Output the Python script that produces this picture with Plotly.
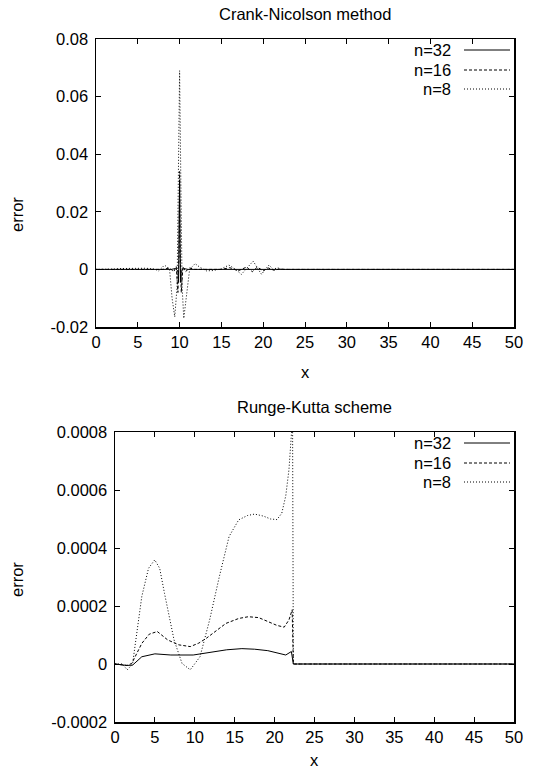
import plotly.graph_objects as go

# ---------------- data: Crank-Nicolson method ----------------
cn_x8 = [0, 1, 2, 3, 4, 5, 6, 7, 7.5, 8.2, 8.8, 9.1, 9.42, 9.7, 9.85, 10.0, 10.15, 10.3,
         10.5, 10.8, 11.2, 11.85, 12.4, 13.2, 14.0, 15.0, 15.9, 16.6, 17.4, 18.1, 18.8,
         19.3, 19.8, 20.3, 20.7, 21.2, 21.7, 22.2, 23.0, 50.0]
cn_y8 = [0, 0, 0.0001, 0.0003, 0.0004, 0.0003, 0.0004, 0.0001, -0.0005, 0.0015, 0.0, -0.010,
         -0.0165, -0.006, 0.03, 0.069, 0.03, -0.006, -0.017, -0.010, 0.0, 0.002, 0.0008,
         -0.0005, -0.0004, 0.0002, 0.0015, 0.0002, -0.0017, 0.0006, 0.0029, 0.0005, -0.0017,
         0.0002, 0.0015, 0.0, 0.0006, 0.0, 0.0, 0.0]

cn_x16 = [0, 8.0, 8.8, 9.3, 9.6, 9.8, 9.92, 10.0, 10.08, 10.2, 10.4, 10.7, 11.2, 11.8,
          15.0, 16.0, 17.0, 18.0, 18.7, 19.3, 20.0, 20.6, 21.3, 22.0, 22.5, 50.0]
cn_y16 = [0, 0, 0.0005, -0.0008, 0.001, -0.008, 0.005, 0.034, 0.005, -0.008, 0.001, -0.0008,
          0.0005, 0.0, 0.0, 0.0006, -0.0005, 0.0008, -0.0008, 0.0008, -0.0005, 0.0005,
          -0.0003, 0.0002, 0.0, 0.0]

cn_x32 = [0, 9.0, 9.5, 9.8, 9.88, 9.96, 10.0, 10.04, 10.12, 10.2, 10.5, 11.0, 50.0]
cn_y32 = [0, 0, 0.0003, -0.0006, -0.0045, 0.01, 0.031, 0.01, -0.0045, -0.0006, 0.0003, 0.0, 0.0]

# ---------------- data: Runge-Kutta scheme ----------------
rk_x8 = [0, 0.9, 1.54, 2.2, 3.36, 4.2, 4.98, 5.6, 6.2, 7.4, 8.4, 9.43, 10.65, 11.86, 13.08,
         14.3, 15.5, 16.6, 17.5, 18.6, 19.5, 20.3, 20.9, 21.4, 21.8, 22.1, 22.25, 22.35, 50.0]
rk_y8 = [0, 0.0, -0.00002, 0.0, 0.000233, 0.00033, 0.000359, 0.00033, 0.000244, 0.000083,
         0.000002, -0.00002, 0.000025, 0.000152, 0.000302, 0.00044, 0.000497, 0.000512,
         0.000517, 0.00051, 0.0005, 0.000498, 0.00052, 0.00058, 0.00067, 0.00079, 0.00085,
         0.0, 0.0]

rk_x16 = [0, 1.5, 2.1, 3.36, 4.3, 5.3, 6.6, 8.0, 9.43, 10.5, 11.46, 13.9, 15.5, 16.7, 18.0,
          19.15, 20.3, 21.2, 21.8, 22.2, 22.35, 50.0]
rk_y16 = [0, -0.000005, 0.000002, 0.000071, 0.000103, 0.000112, 0.000083, 0.000066,
          0.00006, 0.000072, 0.000089, 0.00014, 0.000157, 0.000163, 0.00016, 0.000146,
          0.000133, 0.000127, 0.000152, 0.000187, 0.0, 0.0]

rk_x32 = [0, 1.5, 2.2, 3.36, 5.0, 7.0, 9.8, 12.3, 14.0, 15.9, 17.5, 19.15, 20.5, 21.4, 22.1,
          22.35, 50.0]
rk_y32 = [0, -0.000005, -0.000004, 0.000025, 0.000035, 0.000031, 0.000031, 0.000043,
          0.000049, 0.000053, 0.000051, 0.000046, 0.000038, 0.000031, 0.000043, 0.0, 0.0]

x_ticks = [0, 5, 10, 15, 20, 25, 30, 35, 40, 45, 50]
cn_yticks = [-0.02, 0, 0.02, 0.04, 0.06, 0.08]
cn_ytext = ["-0.02", "0", "0.02", "0.04", "0.06", "0.08"]
rk_yticks = [-0.0002, 0, 0.0002, 0.0004, 0.0006, 0.0008]
rk_ytext = ["-0.0002", "0", "0.0002", "0.0004", "0.0006", "0.0008"]

series_names = ["n=32", "n=16", "n=8"]
dashes = ["solid", "3px,2px", "1px,2px"]

W, H = 540, 773
FONT = "Liberation Sans, Arial, Helvetica, sans-serif"
FS = 16.5

fig = go.Figure()

def add(x, y, dash, xa, ya):
    fig.add_trace(go.Scatter(x=x, y=y, mode="lines", xaxis=xa, yaxis=ya, showlegend=False,
                             line=dict(color="black", width=1, dash=dash)))

add(cn_x32, cn_y32, dashes[0], "x", "y")
add(cn_x16, cn_y16, dashes[1], "x", "y")
add(cn_x8, cn_y8, dashes[2], "x", "y")
add(rk_x32, rk_y32, dashes[0], "x2", "y2")
add(rk_x16, rk_y16, dashes[1], "x2", "y2")
add(rk_x8, rk_y8, dashes[2], "x2", "y2")

def px(v):
    return v / W

def py(v):
    return 1 - v / H

axis_common = dict(showline=True, linecolor="black", linewidth=1.5, mirror="ticks",
                   ticks="inside", ticklen=5, tickcolor="black", tickwidth=1,
                   showgrid=False, zeroline=False, automargin=False,
                   tickfont=dict(family=FONT, size=FS, color="black"))

fig.update_layout(
    width=W, height=H, margin=dict(l=0, r=0, t=0, b=0, autoexpand=False),
    paper_bgcolor="white", plot_bgcolor="white",
    font=dict(family=FONT, size=FS, color="black"),
    xaxis=dict(domain=[px(96), px(514)], range=[0, 50], tickvals=x_ticks, anchor="y",
               **axis_common),
    yaxis=dict(domain=[py(327), py(39)], range=[-0.02, 0.08], tickvals=cn_yticks,
               ticktext=cn_ytext, anchor="x", ticklabelstandoff=3, **axis_common),
    xaxis2=dict(domain=[px(115), px(514)], range=[0, 50], tickvals=x_ticks, anchor="y2",
                **axis_common),
    yaxis2=dict(domain=[py(722), py(432)], range=[-0.0002, 0.0008], tickvals=rk_yticks,
                ticktext=rk_ytext, anchor="x2", ticklabelstandoff=3, **axis_common),
)

ann = []
def text(s, x, y, xanchor="center", angle=0):
    ann.append(dict(text=s, x=px(x), y=py(y), xref="paper", yref="paper", showarrow=False,
                    xanchor=xanchor, yanchor="middle", textangle=angle,
                    font=dict(family=FONT, size=FS, color="black")))

text("Crank-Nicolson method", 305, 14)
text("Runge-Kutta scheme", 314.5, 407)
text("x", 305, 372)
text("x", 314.5, 760)
text("error", 17, 215, angle=-90)
text("error", 17, 580, angle=-90)

shapes = []
for rows in ([50, 70, 89], [443, 463, 482]):
    for name, d, yy in zip(series_names, dashes, rows):
        text(name, 453, yy, xanchor="right")
        shapes.append(dict(type="line", xref="paper", yref="paper", x0=px(464), x1=px(510),
                           y0=py(yy), y1=py(yy), line=dict(color="black", width=1, dash=d)))

fig.update_layout(annotations=ann, shapes=shapes)
fig.write_html("out.html", config={"displayModeBar": False, "staticPlot": True},
               post_script="document.body.style.margin='0px';document.body.style.overflow='hidden';")
